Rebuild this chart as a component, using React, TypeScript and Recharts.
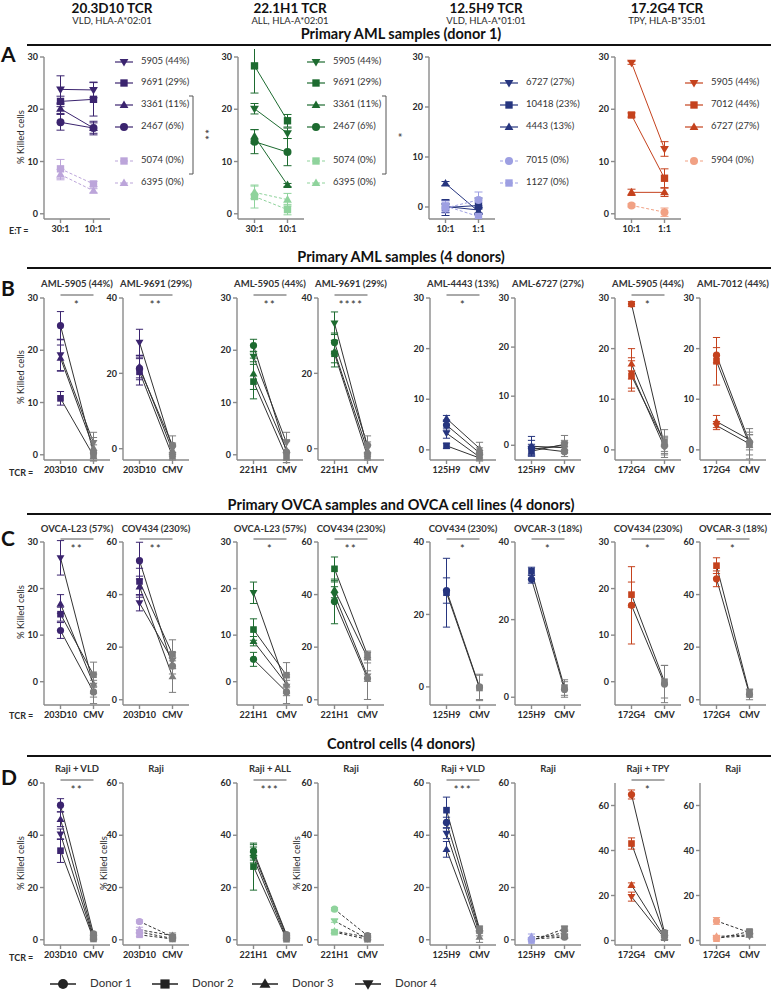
import React from "react";
import { ComposedChart, Line, Scatter, XAxis, YAxis, ErrorBar, ReferenceLine } from "recharts";

const FONT = "Lato, 'Open Sans', 'DejaVu Sans', sans-serif";
const AXIS = "#8a8a8a";
const INK = "#2a2a2a";
const GREY = "#7d7d7d";
const DARK = ["#3b246f", "#1d6b30", "#26357f", "#c5421d"];
const LIGHT = ["#bca5da", "#8fd39c", "#9d9fe2", "#f1a184"];

type Mk = "circle" | "square" | "tri" | "inv";

// headers
const tcrNames = ["20.3D10 TCR", "22.1H1 TCR", "12.5H9 TCR", "17.2G4 TCR"];
const tcrTargets = ["VLD, HLA-A*02:01", "ALL, HLA-A*02:01", "VLD, HLA-A*01:01", "TPY, HLA-B*35:01"];
const sectionTitles = [
  "Primary AML samples (donor 1)",
  "Primary AML samples (4 donors)",
  "Primary OVCA samples and OVCA cell lines (4 donors)",
  "Control cells (4 donors)",
];
const tcrShort = ["203D10", "203D10", "221H1", "221H1", "125H9", "125H9", "172G4", "172G4"];
const donorNames = ["Donor 1", "Donor 2", "Donor 3", "Donor 4"];
const donorMarkers: Mk[] = ["circle", "square", "tri", "inv"];

// panel A: donor 1, two E:T ratios
const aRatios = [["30:1", "10:1"], ["30:1", "10:1"], ["10:1", "1:1"], ["10:1", "1:1"]];
const aSamples = [
  ["5905 (44%)", "9691 (29%)", "3361 (11%)", "2467 (6%)", "5074 (0%)", "6395 (0%)"],
  ["5905 (44%)", "9691 (29%)", "3361 (11%)", "2467 (6%)", "5074 (0%)", "6395 (0%)"],
  ["6727 (27%)", "10418 (23%)", "4443 (13%)", "7015 (0%)", "1127 (0%)"],
  ["5905 (44%)", "7012 (44%)", "6727 (27%)", "5904 (0%)"],
];
const aMarkers: Mk[][] = [
  ["inv", "square", "tri", "circle", "square", "tri"],
  ["inv", "square", "tri", "circle", "square", "tri"],
  ["inv", "square", "tri", "circle", "square"],
  ["inv", "square", "tri", "circle"],
];
const aHigh = [
  [23.8, 21.5, 20.1, 17.5, 8.6, 7.5],
  [20.1, 28.3, 14.8, 13.8, 3.3, 4.1],
  [0.1, -0.1, 4.7, -0.2, 0.2],
  [28.9, 18.9, 4.1, 1.6],
];
const aHighErr = [
  [2.6, 1.0, 0.9, 1.5, 1.8, 1.0],
  [1.0, 5.2, 1.3, 2.3, 2.2, 1.2],
  [1.2, 1.6, 0.4, 1.0, 1.0],
  [0.3, 0.4, 0.6, 0.3],
];
const aLow = [
  [23.7, 21.9, 16.4, 16.4, 5.7, 4.4],
  [15.4, 17.8, 5.5, 11.8, 0.8, 2.7],
  [-0.6, 0.3, -0.9, 1.4, -1.9],
  [12.4, 6.8, 4.1, 0.3],
];
const aLowErr = [
  [1.5, 3.2, 1.0, 1.3, 0.5, 0.4],
  [1.0, 1.2, 0.3, 2.6, 1.0, 1.2],
  [0.8, 1.5, 0.5, 1.6, 0.5],
  [1.4, 1.8, 0.8, 0.8],
];
const aNegative = [
  [false, false, false, false, true, true],
  [false, false, false, false, true, true],
  [false, false, false, true, true],
  [false, false, false, true],
];
const aSig = ["**", "*"];

// panel B: primary AML, donors 1-4
const bTitles = ["AML-5905 (44%)", "AML-9691 (29%)", "AML-5905 (44%)", "AML-9691 (29%)", "AML-4443 (13%)", "AML-6727 (27%)", "AML-5905 (44%)", "AML-7012 (44%)"];
const bTcr = [
  [24.7, 10.8, 18.5, 19.1], [21.3, 20.4, 21.8, 28.2], [20.9, 14.0, 15.5, 18.8], [28.2, 25.2, 25.8, 33.3],
  [4.9, 0.8, 6.2, 3.3], [-0.5, -1.2, -0.2, -0.8], [28.8, 14.6, 17.0, 15.2], [18.7, 17.5, 5.6, 4.8],
];
const bTcrErr = [
  [2.7, 1.3, 2.5, 3.0], [3.0, 3.5, 3.0, 3.5], [1.2, 3.3, 3.0, 1.0], [2.5, 3.5, 3.0, 3.0],
  [1.0, 0.5, 0.6, 1.0], [1.5, 1.0, 2.0, 1.0], [0.5, 3.0, 3.0, 3.0], [1.5, 4.7, 1.2, 0.8],
];
const bCmv = [
  [0.4, -0.2, 1.3, 2.3], [0.9, -2.0, -0.5, 0.0], [0.5, -0.5, 0.9, 2.3], [0.9, -2.0, -0.5, 0.3],
  [-0.6, -1.6, 0.3, -1.4], [-1.3, 0.2, -0.5, 0.0], [0.8, 1.5, 1.2, 0.5], [1.5, 1.0, 2.0, 1.2],
];
const bCmvErr = [
  [1.5, 1.0, 2.0, 2.0], [2.5, 1.0, 1.5, 1.5], [2.0, 1.0, 2.0, 2.0], [2.5, 1.0, 1.5, 1.5],
  [1.0, 0.5, 1.2, 0.8], [1.0, 1.8, 1.0, 1.0], [1.5, 2.5, 1.5, 2.0], [1.5, 2.0, 1.5, 3.0],
];
const bSig = ["*", "**", "**", "****", "*", "", "*", ""];

// panel C: primary OVCA and cell lines
const cTitles = ["OVCA-L23 (57%)", "COV434 (230%)", "OVCA-L23 (57%)", "COV434 (230%)", "COV434 (230%)", "OVCAR-3 (18%)", "COV434 (230%)", "OVCAR-3 (18%)"];
const cTcr = [
  [11.0, 14.5, 16.7, 26.6], [52.9, 45.0, 43.0, 36.8], [4.8, 11.2, 8.7, 19.1], [37.4, 49.8, 41.8, 40.0],
  [26.6, 26.0, null, null], [30.4, 32.5, null, null], [16.4, 18.7, null, null], [46.0, 51.0, null, null],
];
const cTcrErr = [
  [1.7, 1.5, 2.0, 3.7], [7.0, 5.0, 4.0, 3.0], [1.5, 2.3, 1.0, 2.3], [8.5, 4.5, 3.0, 3.0],
  [3.5, 9.5, 0, 0], [1.0, 1.0, 0, 0], [8.3, 2.7, 0, 0], [3.0, 3.0, 0, 0],
];
const cCmv = [
  [-2.2, 1.5, -0.5, -0.8], [12.8, 17.3, 8.8, 15.0], [-2.2, 1.4, -0.5, -1.0], [8.1, 17.0, 16.0, 9.0],
  [0.0, -0.3, null, null], [2.0, 2.5, null, null], [-0.5, 0.0, null, null], [2.0, 2.5, null, null],
];
const cCmvErr = [
  [2.5, 2.7, 2.0, 2.5], [3.0, 5.5, 6.0, 3.0], [2.5, 2.7, 2.0, 2.0], [8.0, 1.5, 2.0, 2.0],
  [3.5, 3.5, 0, 0], [2.0, 2.0, 0, 0], [4.0, 3.5, 0, 0], [2.0, 1.5, 0, 0],
];
const cSig = ["**", "**", "*", "**", "*", "*", "*", "*"];

// panel D: control cells
const dTitles = ["Raji + VLD", "Raji", "Raji + ALL", "Raji", "Raji + VLD", "Raji", "Raji + TPY", "Raji"];
const dTcr = [
  [51.5, 34.1, 46.1, 40.4], [7.0, 1.9, 3.8, 3.0], [33.9, 28.0, 33.0, 31.4], [11.7, 2.9, 3.3, 7.2],
  [44.9, 49.6, 34.6, 40.7], [0.3, -0.3, 1.2, 0.0], [64.9, 43.1, 24.6, 19.5], [8.7, 0.8, 1.8, 1.3],
];
const dTcrErr = [
  [2.5, 4.5, 2.8, 2.0], [0.6, 0.6, 1.0, 0.6], [2.5, 9.0, 2.5, 2.0], [0.6, 0.5, 0.5, 0.5],
  [2.0, 5.0, 3.0, 2.0], [0.3, 0.3, 1.0, 0.3], [2.0, 2.5, 1.0, 2.0], [1.5, 0.5, 0.5, 0.5],
];
const dCmv = [
  [2.3, 0.3, 1.2, 0.6], [1.2, 0.3, 1.6, 0.5], [2.0, 0.2, 1.5, 0.6], [1.6, 0.2, 1.0, 0.4],
  [3.5, 4.2, 1.0, 2.5], [1.0, 4.2, 1.5, 2.8], [3.5, 2.8, 1.5, 1.0], [3.5, 4.0, 2.5, 2.0],
];
const dCmvErr = [
  [0.6, 0.5, 0.8, 0.5], [0.8, 0.5, 1.0, 0.5], [0.6, 0.5, 0.8, 0.5], [0.8, 0.5, 0.8, 0.5],
  [1.0, 1.0, 2.0, 1.0], [0.5, 1.0, 0.5, 0.5], [1.0, 1.5, 1.0, 1.0], [0.8, 0.8, 0.5, 0.5],
];
const dSig = ["**", "", "***", "", "***", "", "*", ""];

// layout
const PW = 66;
const colX = [44, 123, 237, 318, 430, 515, 615, 700];
const aX = [44, 238, 429, 615];
const aLo = [-1, -1, -2.4, -1];
const aLegendX = [115, 307, 500, 685];
const aSlots = [62, 83, 105, 127, 161, 183];
const bLo = [-1, -3, -1, -3, -2, -3, -2, -2];
const bHi = [30, 40, 30, 40, 30, 30, 30, 30];
const cLo = [-5, -2, -5, -2, -5, -2, -5, -2];
const cHi = [30, 60, 30, 60, 40, 40, 30, 60];
const dLo = [-2, -2, -2, -2, -2, -2, -2, -2];
const dHi = [60, 60, 60, 60, 60, 60, 70, 70];
const rowTop = [298, 542, 783];

type Pt = { x: number; y: number; e: number };
type Ser = { mk: Mk; pts: Pt[]; cols: string[]; line: string; dash?: string };

function Marker({ mk, cx, cy, s, fill }: { mk: Mk; cx: number; cy: number; s: number; fill: string }) {
  if (mk === "circle") return <circle cx={cx} cy={cy} r={s} fill={fill} />;
  if (mk === "square") return <rect x={cx - s * 0.92} y={cy - s * 0.92} width={s * 1.84} height={s * 1.84} fill={fill} />;
  const d = mk === "tri" ? -1 : 1;
  const pts = `${cx},${cy + d * s * 1.15} ${cx - s * 1.1},${cy - d * s * 0.75} ${cx + s * 1.1},${cy - d * s * 0.75}`;
  return <polygon points={pts} fill={fill} />;
}

function ticksFor(hi: number) {
  const step = hi <= 30 ? 10 : 20;
  const out: number[] = [];
  for (let v = 0; v <= hi; v += step) out.push(v);
  return out;
}

function Panel(props: {
  left: number; top: number; bottom: number; lo: number; hi: number;
  labels: string[]; series: Ser[]; sig?: string; s: number;
}) {
  const { left, top, bottom, lo, hi, labels, series, sig, s } = props;
  const YW = 32, MT = 8, XH = 24, MR = 8;
  const tickStyle = { fontSize: 9, fontWeight: 700, fill: INK, fontFamily: FONT };
  // significance bar sits 3px above the top of the axis
  const barY = hi + (3 * (hi - lo)) / (bottom - top);
  return (
    <div style={{ position: "absolute", left: left - YW, top: top - MT }}>
      <ComposedChart width={YW + PW + MR} height={MT + bottom - top + XH} margin={{ top: MT, right: MR, bottom: 0, left: 0 }}>
        <XAxis type="number" dataKey="x" domain={[-0.5, 1.5]} ticks={[0, 1]} interval={0}
          tickFormatter={(v: number) => labels[v] ?? ""} allowDataOverflow height={XH}
          stroke={AXIS} strokeWidth={1.4} tickSize={4} tickMargin={3} tick={tickStyle} />
        <YAxis type="number" dataKey="y" domain={[lo, hi]} ticks={ticksFor(hi)} interval={0} allowDataOverflow
          width={YW} stroke={AXIS} strokeWidth={1.4} tickSize={4} tickMargin={2} tick={tickStyle} />
        {series.map((se, i) => (
          <Line key={"l" + i} data={se.pts} dataKey="y" stroke={se.line} strokeWidth={1}
            strokeDasharray={se.dash} dot={false} activeDot={false} isAnimationActive={false} />
        ))}
        {series.flatMap((se, i) =>
          se.pts.map((p, j) => (
            <Scatter key={`s${i}_${j}`} data={[p]} dataKey="y" isAnimationActive={false}
              shape={(sp: any) => <Marker mk={se.mk} cx={sp.cx} cy={sp.cy} s={s} fill={se.cols[j]} />}>
              <ErrorBar dataKey="e" direction="y" width={s} stroke={se.cols[j]} strokeWidth={1} />
            </Scatter>
          ))
        )}
        {sig ? (
          <ReferenceLine segment={[{ x: 0, y: barY }, { x: 1, y: barY }]} stroke="#555" strokeWidth={1}
            ifOverflow="visible" />
        ) : null}
      </ComposedChart>
    </div>
  );
}

function donorSeries(tcr: (number | null)[], tcrErr: number[], cmv: (number | null)[], cmvErr: number[], col: string, dash?: string): Ser[] {
  const out: Ser[] = [];
  tcr.forEach((v, k) => {
    const w = cmv[k];
    if (v == null || w == null) return;
    out.push({
      mk: donorMarkers[k],
      pts: [{ x: 0, y: v, e: tcrErr[k] }, { x: 1, y: w, e: cmvErr[k] }],
      cols: [col, GREY],
      line: "#333",
      dash,
    });
  });
  return out;
}

function aSeries(p: number): Ser[] {
  return aSamples[p].map((_, i) => {
    const neg = aNegative[p][i];
    const c = neg ? LIGHT[p] : DARK[p];
    return {
      mk: aMarkers[p][i],
      pts: [{ x: 0, y: aHigh[p][i], e: aHighErr[p][i] }, { x: 1, y: aLow[p][i], e: aLowErr[p][i] }],
      cols: [c, c],
      line: c,
      dash: neg ? "3 2" : undefined,
    };
  });
}

function Overlay() {
  const heads = [112, 290, 486, 667];
  const secY = [39, 262, 510, 749];
  const lineY = [45, 268, 514, 756];
  const letterY = [62, 296, 546, 785];
  const letters = ["A", "B", "C", "D"];
  const subY = [287, 532, 772];
  const subTitles = [bTitles, cTitles, dTitles];
  const sigs = [bSig, cSig, dSig];
  const ylab = (x: number, y: number, k: string) => (
    <text key={k} transform={`translate(${x},${y}) rotate(-90)`} textAnchor="middle" dominantBaseline="middle" fontSize={9.5} fill={INK}>% Killed cells</text>
  );
  return (
    <svg width={771} height={990} style={{ position: "absolute", left: 0, top: 0, pointerEvents: "none" }} fontFamily={FONT}>
      {tcrNames.map((t, i) => (
        <g key={t}>
          <text x={heads[i]} y={13} textAnchor="middle" fontSize={13.5} fontWeight={700} fill="#111">{t}</text>
          <text x={heads[i]} y={24} textAnchor="middle" fontSize={9.5} fill={INK}>{tcrTargets[i]}</text>
        </g>
      ))}
      {sectionTitles.map((t, i) => (
        <g key={t}>
          <text x={401} y={secY[i]} textAnchor="middle" fontSize={14.5} fontWeight={700} fill="#111">{t}</text>
          <line x1={27} x2={771} y1={lineY[i]} y2={lineY[i]} stroke="#111" strokeWidth={2} />
          <text x={1} y={letterY[i]} fontSize={21} fontWeight={700} fill="#111">{letters[i]}</text>
        </g>
      ))}
      {subTitles.map((row, r) =>
        row.map((t, i) => (
          <g key={`st${r}${i}`}>
            <text x={colX[i] + PW / 2} y={subY[r]} textAnchor="middle" fontSize={9.5} fontWeight={700} fill="#333">{t}</text>
            {sigs[r][i] ? (
              <text x={colX[i] + PW / 2} y={rowTop[r] + 11} textAnchor="middle" fontSize={11} letterSpacing={1.5} fill={INK}>{sigs[r][i]}</text>
            ) : null}
          </g>
        ))
      )}
      {ylab(22, 137, "ya")}
      {ylab(22, 377, "yb")}
      {ylab(22, 612, "yc")}
      {ylab(22, 863, "yd")}
      {ylab(105, 863, "yd2")}
      {ylab(298, 863, "yd4")}
      <text x={9} y={234} fontSize={9} fontWeight={700} fill={INK}>E:T =</text>
      {[476, 719, 961].map((y) => (
        <text key={y} x={9} y={y} fontSize={9} fontWeight={700} fill={INK}>TCR =</text>
      ))}
      {aSamples.map((names, p) =>
        names.map((n, i) => {
          const y = aSlots[i + (p >= 2 ? 1 : 0)];
          const lx = aLegendX[p];
          const neg = aNegative[p][i];
          const c = neg ? LIGHT[p] : DARK[p];
          return (
            <g key={`lg${p}${i}`}>
              <line x1={lx} x2={lx + 18} y1={y} y2={y} stroke={c} strokeWidth={1.2} strokeDasharray={neg ? "3 2" : undefined} />
              <Marker mk={aMarkers[p][i]} cx={lx + 9} cy={y} s={4} fill={c} />
              <text x={lx + 26} y={y} dominantBaseline="middle" fontSize={9.5} fill="#333">{n}</text>
            </g>
          );
        })
      )}
      <path d="M189,96 H193 V174 H189" fill="none" stroke="#555" strokeWidth={1} />
      <text transform="translate(203,135) rotate(90)" textAnchor="middle" dominantBaseline="middle" fontSize={12} letterSpacing={1} fill={INK}>{aSig[0]}</text>
      <path d="M382,96 H386 V174 H382" fill="none" stroke="#555" strokeWidth={1} />
      <text transform="translate(396,135) rotate(90)" textAnchor="middle" dominantBaseline="middle" fontSize={12} fill={INK}>{aSig[1]}</text>
      {donorNames.map((n, i) => {
        const lx = [50, 152, 252, 355][i];
        return (
          <g key={n}>
            <line x1={lx} x2={lx + 26} y1={984} y2={984} stroke="#222" strokeWidth={1.5} />
            <Marker mk={donorMarkers[i]} cx={lx + 13} cy={984} s={5} fill="#222" />
            <text x={lx + 40} y={984} dominantBaseline="middle" fontSize={11.5} fill="#333">{n}</text>
          </g>
        );
      })}
    </svg>
  );
}

export default function App() {
  return (
    <div style={{ position: "absolute", left: 0, top: 0, width: 771, height: 990, background: "#fff", fontFamily: FONT }}>
      {aX.map((x, p) => (
        <Panel key={"a" + p} left={x} top={57} bottom={219} lo={aLo[p]} hi={30} labels={aRatios[p]} series={aSeries(p)} s={4} />
      ))}
      {colX.map((x, i) => (
        <Panel key={"b" + i} left={x} top={rowTop[0]} bottom={460} lo={bLo[i]} hi={bHi[i]}
          labels={[tcrShort[i], "CMV"]} sig={bSig[i]} s={3.6}
          series={donorSeries(bTcr[i], bTcrErr[i], bCmv[i], bCmvErr[i], DARK[Math.floor(i / 2)])} />
      ))}
      {colX.map((x, i) => (
        <Panel key={"c" + i} left={x} top={rowTop[1]} bottom={705} lo={cLo[i]} hi={cHi[i]}
          labels={[tcrShort[i], "CMV"]} sig={cSig[i]} s={3.6}
          series={donorSeries(cTcr[i], cTcrErr[i], cCmv[i], cCmvErr[i], DARK[Math.floor(i / 2)])} />
      ))}
      {colX.map((x, i) => (
        <Panel key={"d" + i} left={x} top={rowTop[2]} bottom={945} lo={dLo[i]} hi={dHi[i]}
          labels={[tcrShort[i], "CMV"]} sig={dSig[i]} s={3.6}
          series={donorSeries(dTcr[i], dTcrErr[i], dCmv[i], dCmvErr[i],
            i % 2 ? LIGHT[Math.floor(i / 2)] : DARK[Math.floor(i / 2)], i % 2 ? "3 2" : undefined)} />
      ))}
      <Overlay />
    </div>
  );
}
